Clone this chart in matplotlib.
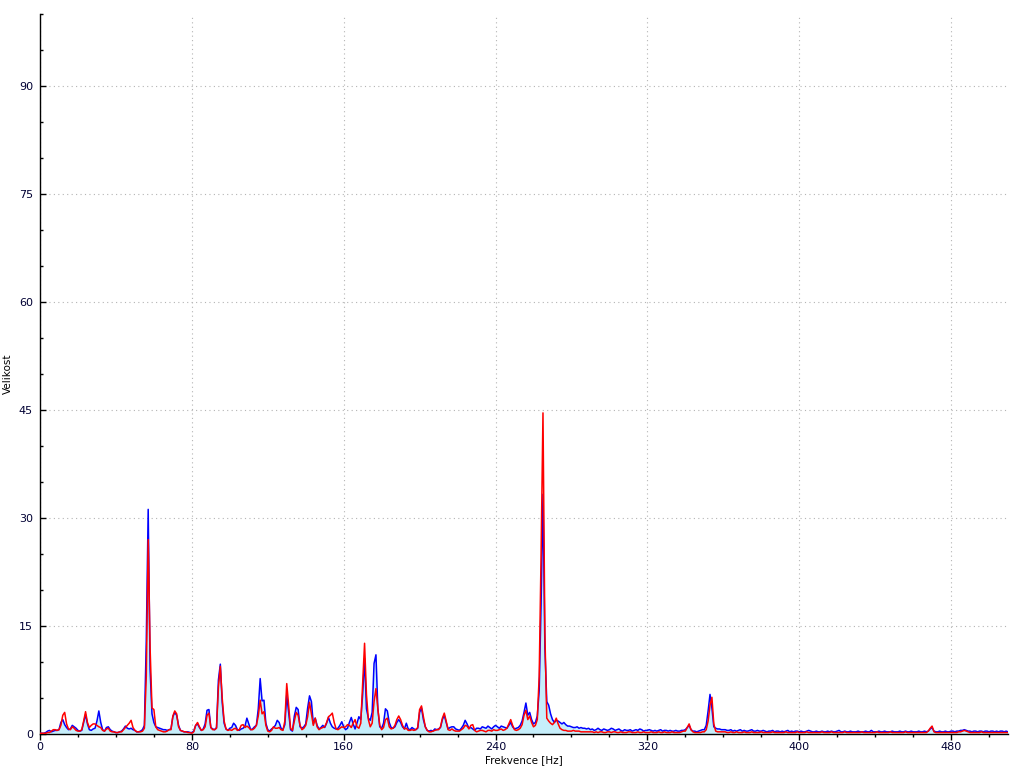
import numpy as np
import matplotlib
matplotlib.use("Agg")
import matplotlib.pyplot as plt
from matplotlib.ticker import MultipleLocator

# Spectrum magnitude, one value per 1 Hz bin starting at 0 Hz
freq_step = 1.0

blue_vals = [
    0.1,0.1,0.1,0.2,0.4,0.5,0.3,0.4,0.5,0.5,
    0.6,1.6,2.0,1.3,0.9,0.6,0.7,1.2,1.0,0.8,
    0.5,0.4,0.5,1.6,2.7,1.4,0.6,0.5,0.7,0.8,
    1.8,3.2,1.6,0.6,0.4,0.9,1.0,0.6,0.4,0.3,
    0.2,0.2,0.3,0.4,0.7,1.1,0.8,0.7,0.8,0.6,
    0.5,0.3,0.3,0.4,0.6,1.2,13.0,31.2,9.0,2.8,
    1.6,1.0,0.9,0.8,0.7,0.6,0.6,0.5,0.6,0.7,
    2.4,3.0,2.6,1.2,0.5,0.4,0.3,0.3,0.3,0.2,
    0.2,0.4,1.2,1.4,0.9,0.5,0.7,1.4,3.3,3.4,
    0.9,0.7,0.6,0.9,7.5,9.7,4.4,1.5,0.7,0.5,
    0.8,0.9,1.5,1.2,0.6,0.5,0.7,0.8,1.1,2.2,
    1.4,0.6,0.7,1.0,1.2,3.5,7.7,4.6,4.7,1.5,
    0.6,0.4,0.7,0.9,1.2,1.9,1.6,0.8,0.6,1.3,
    5.4,3.0,0.6,0.4,2.5,3.7,3.4,1.0,0.8,1.0,
    1.4,3.6,5.3,4.5,1.4,2.2,1.2,0.7,0.9,1.2,
    0.9,1.5,2.3,1.5,1.0,0.8,0.7,0.8,1.2,1.7,
    1.0,0.6,0.8,1.6,2.3,1.4,0.7,1.5,2.4,2.0,
    5.5,10.5,3.5,2.2,1.9,3.0,9.8,11.0,3.5,1.0,
    0.8,1.5,3.5,3.2,1.6,0.9,0.8,1.0,1.6,2.0,
    1.6,1.0,0.7,1.5,0.7,0.6,0.9,0.7,0.6,0.8,
    3.0,3.6,2.0,1.0,0.5,0.4,0.5,0.4,0.7,0.6,
    0.7,0.9,2.0,2.6,1.6,0.7,0.9,1.0,1.0,0.7,
    0.6,0.5,0.8,1.2,1.9,1.4,0.8,0.9,0.7,0.5,
    0.8,0.8,0.7,1.0,0.9,0.8,1.1,0.9,0.7,1.0,
    1.2,1.0,0.8,1.1,1.0,0.9,0.8,1.2,1.6,1.0,
    0.7,0.8,0.9,1.2,1.8,3.0,4.3,2.6,3.0,2.0,
    1.4,1.6,2.5,6.0,18.0,33.3,12.0,4.5,4.0,2.8,
    2.0,1.6,1.9,1.8,1.6,1.4,1.6,1.3,1.1,1.1,
    1.0,0.9,0.9,1.0,0.8,0.9,0.8,0.8,0.7,0.8,
    0.6,0.7,0.5,0.6,0.8,0.6,0.5,0.7,0.6,0.5,
    0.6,0.8,0.7,0.5,0.6,0.7,0.5,0.4,0.6,0.5,
    0.5,0.6,0.4,0.5,0.6,0.5,0.7,0.6,0.4,0.5,
    0.5,0.6,0.5,0.4,0.5,0.4,0.5,0.6,0.4,0.5,
    0.5,0.4,0.5,0.4,0.4,0.5,0.4,0.4,0.5,0.5,
    0.6,0.9,1.2,0.6,0.4,0.4,0.3,0.4,0.5,0.6,
    0.6,1.2,3.2,5.5,3.6,1.0,0.8,0.7,0.7,0.6,
    0.6,0.6,0.5,0.5,0.6,0.4,0.5,0.4,0.5,0.6,
    0.4,0.5,0.4,0.4,0.5,0.6,0.4,0.4,0.5,0.4,
    0.4,0.5,0.4,0.3,0.4,0.4,0.5,0.3,0.4,0.4,
    0.3,0.4,0.3,0.4,0.5,0.3,0.4,0.3,0.4,0.4,
    0.3,0.4,0.3,0.3,0.4,0.5,0.4,0.3,0.3,0.4,
    0.3,0.3,0.4,0.3,0.3,0.4,0.3,0.4,0.3,0.3,
    0.4,0.5,0.3,0.3,0.4,0.3,0.3,0.4,0.3,0.3,
    0.3,0.4,0.3,0.3,0.3,0.4,0.3,0.3,0.5,0.3,
    0.3,0.3,0.4,0.3,0.3,0.4,0.3,0.3,0.3,0.4,
    0.3,0.3,0.3,0.4,0.3,0.3,0.4,0.3,0.3,0.4,
    0.3,0.3,0.3,0.4,0.3,0.3,0.4,0.3,0.4,0.7,
    0.9,0.4,0.3,0.3,0.4,0.3,0.3,0.4,0.3,0.3,
    0.4,0.4,0.3,0.4,0.4,0.5,0.5,0.6,0.5,0.4,
    0.4,0.3,0.4,0.4,0.3,0.4,0.4,0.3,0.4,0.4,
    0.3,0.4,0.4,0.3,0.4,0.3,0.4,0.4,0.3,0.4,
    0.3,
]

red_vals = [
    0.1,0.1,0.1,0.1,0.2,0.2,0.4,0.6,0.6,0.5,
    0.6,1.2,2.6,3.0,1.4,0.7,0.6,1.0,0.8,0.5,
    0.4,0.4,0.6,1.8,3.1,1.6,0.9,1.2,1.4,1.4,
    1.2,1.0,0.9,0.5,0.4,0.7,0.8,0.4,0.3,0.3,
    0.2,0.2,0.3,0.3,0.6,0.9,1.2,1.5,1.9,0.9,
    0.5,0.3,0.3,0.3,0.4,0.8,8.0,27.0,12.0,3.6,
    3.4,1.0,0.6,0.5,0.4,0.3,0.3,0.4,0.6,0.6,
    2.5,3.2,2.8,1.0,0.5,0.4,0.3,0.3,0.2,0.2,
    0.1,0.3,1.2,1.6,1.0,0.5,0.6,1.0,2.6,2.9,
    0.9,0.6,0.6,0.8,6.5,9.4,5.0,1.8,0.7,0.5,
    0.6,0.5,0.7,0.8,0.5,0.6,1.2,1.3,0.9,1.1,
    0.9,0.6,0.6,0.8,1.2,2.5,4.7,2.8,3.1,1.2,
    0.4,0.3,0.5,1.0,0.8,0.8,0.9,0.6,0.5,1.8,
    7.0,4.0,0.8,0.5,1.8,3.0,2.6,1.2,0.6,0.8,
    1.2,2.4,4.4,2.8,1.2,2.2,1.0,0.6,0.8,0.9,
    1.0,1.6,2.4,2.6,2.9,1.6,0.7,0.6,0.8,1.0,
    0.9,1.0,1.3,1.2,0.9,1.5,2.0,1.0,0.8,1.5,
    7.0,12.6,5.5,2.0,1.0,1.5,4.5,6.3,3.5,1.2,
    0.6,0.9,2.0,2.2,1.0,0.7,0.8,1.2,2.0,2.5,
    2.0,1.2,0.7,0.8,0.5,0.5,0.6,0.5,0.6,0.9,
    3.4,3.9,2.4,1.0,0.5,0.3,0.3,0.4,0.5,0.6,
    0.6,1.0,2.2,2.9,1.8,0.6,0.5,0.7,0.5,0.4,
    0.4,0.4,0.6,0.8,1.2,1.1,0.7,1.2,1.3,0.5,
    0.3,0.4,0.5,0.5,0.4,0.3,0.5,0.5,0.4,0.6,
    0.5,0.5,0.6,0.7,0.5,0.6,0.8,1.4,2.0,1.2,
    0.6,0.5,0.6,0.8,1.3,2.6,3.3,2.0,2.5,1.6,
    1.0,1.2,2.0,8.0,25.0,44.6,14.0,2.2,1.8,1.5,
    1.3,1.6,2.2,1.4,0.8,0.6,0.5,0.5,0.4,0.4,
    0.4,0.5,0.4,0.4,0.4,0.3,0.3,0.3,0.3,0.3,
    0.3,0.3,0.2,0.3,0.2,0.3,0.3,0.2,0.2,0.3,
    0.3,0.2,0.3,0.3,0.2,0.2,0.3,0.2,0.2,0.2,
    0.3,0.3,0.2,0.2,0.2,0.3,0.2,0.2,0.3,0.2,
    0.2,0.2,0.3,0.2,0.2,0.2,0.3,0.2,0.2,0.3,
    0.2,0.2,0.2,0.3,0.2,0.2,0.2,0.2,0.3,0.4,
    0.4,0.9,1.4,0.6,0.3,0.2,0.2,0.2,0.2,0.3,
    0.3,0.6,1.8,4.0,5.1,1.4,0.4,0.3,0.3,0.3,
    0.3,0.3,0.2,0.2,0.3,0.2,0.2,0.3,0.2,0.2,
    0.2,0.3,0.2,0.2,0.2,0.3,0.2,0.2,0.2,0.2,
    0.3,0.2,0.2,0.2,0.2,0.2,0.3,0.2,0.2,0.2,
    0.2,0.2,0.2,0.3,0.2,0.2,0.2,0.2,0.2,0.3,
    0.2,0.2,0.2,0.2,0.3,0.2,0.2,0.2,0.2,0.2,
    0.2,0.2,0.3,0.2,0.2,0.2,0.2,0.3,0.2,0.2,
    0.2,0.2,0.2,0.2,0.3,0.2,0.2,0.2,0.2,0.2,
    0.2,0.2,0.2,0.3,0.2,0.2,0.2,0.2,0.2,0.2,
    0.2,0.3,0.2,0.2,0.2,0.2,0.2,0.2,0.3,0.2,
    0.2,0.2,0.2,0.2,0.2,0.2,0.3,0.2,0.2,0.2,
    0.2,0.2,0.2,0.2,0.2,0.2,0.2,0.2,0.4,0.8,
    1.1,0.3,0.2,0.2,0.2,0.2,0.2,0.2,0.2,0.2,
    0.2,0.2,0.2,0.2,0.3,0.3,0.4,0.5,0.4,0.3,
    0.2,0.2,0.2,0.2,0.2,0.2,0.3,0.2,0.2,0.2,
    0.2,0.2,0.2,0.2,0.2,0.2,0.2,0.2,0.2,0.2,
    0.2,
]

x_ticks = [0, 80, 160, 240, 320, 400, 480]
y_ticks = [0, 15, 30, 45, 60, 75, 90]
x_label = "Frekvence [Hz]"
y_label = "Velikost"

blue = np.array(blue_vals)
red = np.array(red_vals)
n = min(len(blue), len(red))
blue, red = blue[:n], red[:n]
freq = np.arange(n) * freq_step

fig = plt.figure(figsize=(10.24, 7.68), dpi=100)
ax = fig.add_axes([40/1024, 34/768, 968/1024, 720/768])

ax.fill_between(freq, 0, blue, color="#c6eefa", lw=0, zorder=1)
ax.plot(freq, blue, color="#0000ff", lw=1.1, zorder=3)
ax.plot(freq, red, color="#ff0000", lw=1.1, zorder=4)

ax.set_xlim(0, 510)
ax.set_ylim(0, 100)
ax.set_xticks(x_ticks)
ax.set_yticks(y_ticks)
ax.xaxis.set_minor_locator(MultipleLocator(20))
ax.yaxis.set_minor_locator(MultipleLocator(5))

for s in ["top", "right"]:
    ax.spines[s].set_visible(False)
for s in ["left", "bottom"]:
    ax.spines[s].set_color("black")
    ax.spines[s].set_linewidth(1.0)

ax.tick_params(axis="y", which="major", direction="in", length=4, width=1, pad=5,
               labelsize=8, labelcolor="#000033")
ax.tick_params(axis="y", which="minor", direction="in", length=2, width=1)
ax.tick_params(axis="x", which="major", direction="out", length=4, width=1, pad=2,
               labelsize=8, labelcolor="#000033")
ax.tick_params(axis="x", which="minor", direction="out", length=2, width=1)

ax.grid(True, which="major", linestyle=(0, (1, 3)), color="#b4b4b4", linewidth=0.8)
ax.set_axisbelow(True)

fig.text(8/1024, 1 - 374/768, y_label, rotation=90, ha="center", va="center", fontsize=7.5)
fig.text(524/1024, 1 - 760/768, x_label, ha="center", va="center", fontsize=7.5)

fig.savefig("out.png", dpi=100)
